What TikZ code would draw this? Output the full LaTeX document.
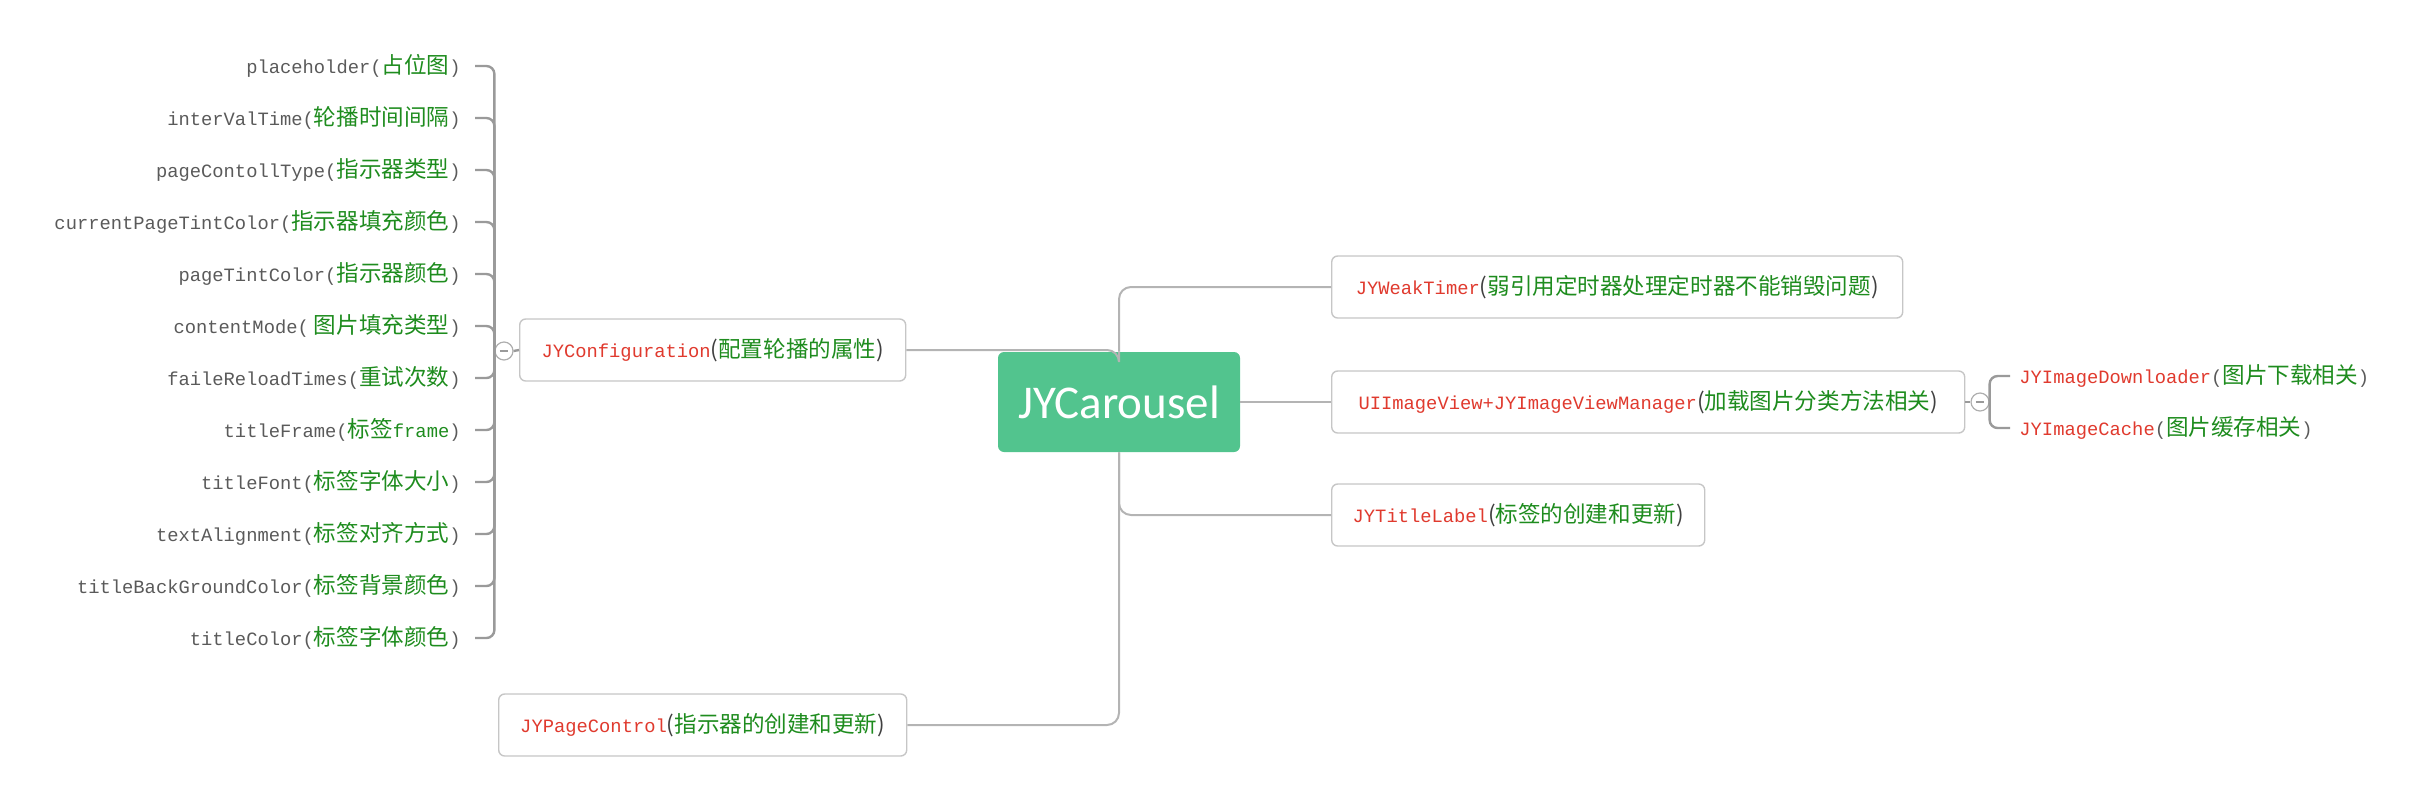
\documentclass[tikz,border=0pt]{standalone}
\usepackage{fontspec}
\setmainfont{Liberation Mono}
\newfontfamily\cjk[Scale=1.2]{Noto Sans CJK SC}
\newfontfamily\rootfont{Carlito}

\definecolor{rootgreen}{HTML}{52C48E}
\definecolor{zhgreen}{HTML}{1E8C1E}
\definecolor{clsred}{HTML}{E03A2E}
\definecolor{leafgray}{HTML}{5A5A5A}
\definecolor{parengray}{HTML}{404040}
\definecolor{linegray}{HTML}{B4B4B4}
\definecolor{forkgray}{HTML}{9A9A9A}
\definecolor{boxgray}{HTML}{C6C6C6}

\newcommand{\zh}[1]{{\color{zhgreen}\cjk #1}}
\newcommand{\cls}[1]{{\color{clsred}#1}}
\newcommand{\leaftext}[2]{{\color{leafgray}#1(}\zh{#2}{\color{leafgray})}}
\newcommand{\boxtext}[2]{\cls{#1}{\color{parengray}\cjk(}\zh{#2}{\color{parengray}\cjk)}}
\newcommand{\subtext}[2]{\cls{#1}{\color{leafgray}(}\zh{#2}{\color{leafgray})}}

\tikzset{
  topic/.style={draw=boxgray, line width=0.7pt, rounded corners=3pt, fill=white,
    anchor=west, minimum height=31pt, inner xsep=9pt},
  root/.style={fill=rootgreen, rounded corners=3pt, minimum width=121pt, minimum height=50pt,
    text=white, font=\rootfont\fontsize{23.5}{26}\selectfont},
  leaf/.style={anchor=east, inner xsep=7pt, inner ysep=0pt},
  subleaf/.style={anchor=west, inner xsep=4.5pt, inner ysep=0pt},
  fold/.style={circle, draw=forkgray!80, line width=0.6pt, fill=white, minimum size=9pt, inner sep=0pt,
    path picture={\draw[forkgray, line width=0.6pt] ([xshift=2.4pt]path picture bounding box.west) -- ([xshift=-2.4pt]path picture bounding box.east);}},
  branch/.style={draw=linegray, line width=1pt, rounded corners=6pt},
  fork/.style={draw=forkgray, line width=1.2pt, rounded corners=4pt},
}

\begin{document}
\begin{tikzpicture}[x=0.5pt, y=-0.5pt, font=\fontsize{9.4}{11}\selectfont]
    \useasboundingbox (0,0) rectangle (2434,804); %marco

    %nodo central
    \node[root] (root) at (1119,402) {JYCarousel};

    %ramas principales
    \node[topic, minimum width=193pt] (config) at (519,350) {\boxtext{JYConfiguration}{配置轮播的属性}};
    \node[topic, minimum width=204pt] (pagectl) at (498,725) {\boxtext{JYPageControl}{指示器的创建和更新}};
    \node[topic, minimum width=285.5pt] (weak) at (1331,287) {\boxtext{JYWeakTimer}{弱引用定时器处理定时器不能销毁问题}};
    \node[topic, minimum width=316.5pt] (uiview) at (1331,402) {\boxtext{UIImageView+JYImageViewManager}{加载图片分类方法相关}};
    \node[topic, minimum width=186.5pt] (titlelbl) at (1331,515) {\boxtext{JYTitleLabel}{标签的创建和更新}};

    %propiedades de la configuracion
    \foreach \name/\zhname [count=\i] in {placeholder/占位图, interValTime/轮播时间间隔,
        pageContollType/指示器类型, currentPageTintColor/指示器填充颜色, pageTintColor/指示器颜色,
        contentMode/{\ 图片填充类型}, faileReloadTimes/重试次数, titleFrame/{标签{\rmfamily frame}},
        titleFont/标签字体大小, textAlignment/标签对齐方式, titleBackGroundColor/标签背景颜色,
        titleColor/标签字体颜色}
        \node[leaf] (leaf\i) at (475,14+52*\i) {\leaftext{\name}{\zhname}};

    %hijos de UIImageView
    \node[subleaf] (dl) at (2010,376) {\subtext{JYImageDownloader}{图片下载相关}};
    \node[subleaf] (cache) at (2010,428) {\subtext{JYImageCache}{图片缓存相关}};

    %conectores
    \draw[branch] (config.east) -| (root.north);
    \draw[branch] (root.north) |- (weak.west);
    \draw[branch] (root.east) -- (uiview.west);
    \draw[branch] (root.south) |- (titlelbl.west);
    \draw[branch] (root.south) |- (pagectl.east);

    \node[fold] (cfgfold) at (504,351) {};
    \node[fold] (imgfold) at (1980,402) {};

    \foreach \i in {1,...,12}
        \draw[fork] (leaf\i.east) -| (cfgfold.west);
    \draw[fork] (cfgfold.east) -- (config.west);
    \draw[fork] (uiview.east) -- (imgfold.west);
    \draw[fork] (dl.west) -| (imgfold.east);
    \draw[fork] (cache.west) -| (imgfold.east);
\end{tikzpicture}
\end{document}
